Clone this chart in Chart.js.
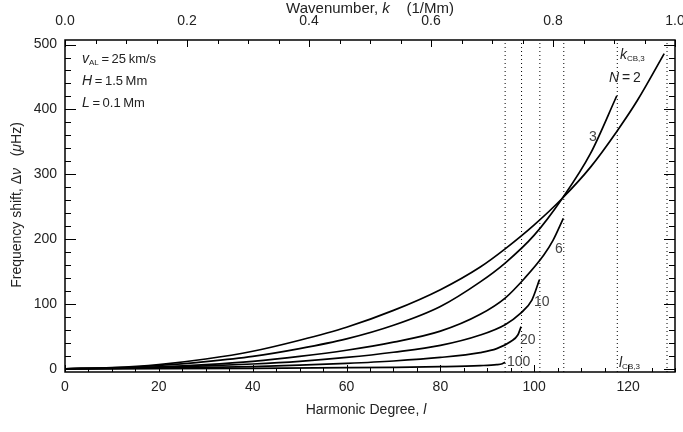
<!DOCTYPE html>
<html>
<head>
<meta charset="utf-8">
<script src="https://cdn.jsdelivr.net/npm/chart.js@4/dist/chart.umd.min.js"></script>
<style>
  html, body { margin: 0; padding: 0; background: #fff; }
  #caja { width: 683px; height: 432px; }
</style>
</head>
<body>
<div id="caja"><canvas id="grafica" width="683" height="432"></canvas></div>
<script>
// harmonic degree samples and frequency shifts (uHz)
let lN2 = [0, 10, 20, 30, 40, 50, 60, 70, 80, 88.5, 93.8, 100, 106, 112, 117.6, 122, 127.7];
let dvN2 = [0, 1.8, 6.5, 15, 27, 44, 64, 90, 122, 157, 185, 222, 263, 311, 366, 414, 486];
let lN3 = [0, 10, 20, 30, 40, 50, 60, 70, 80, 88.5, 93.8, 100, 106, 112, 117.6];
let dvN3 = [0, 1.3, 5, 11, 19, 31, 46, 67, 96, 134, 163, 206, 263, 332, 421];
let lN6 = [0, 10, 20, 30, 40, 50, 60, 70, 80, 88.5, 93.8, 98, 102, 104, 106.2];
let dvN6 = [0, 0.8, 3, 6.5, 11.5, 19, 28.5, 41, 58, 84, 109, 140, 175, 198, 232];
let lN10 = [0, 10, 20, 30, 40, 50, 60, 70, 80, 88.5, 93.8, 97, 99.5, 101.1];
let dvN10 = [0, 0.5, 2, 4.3, 7.3, 11.5, 17.5, 25.5, 36, 52, 68, 85, 106, 137];
let lN20 = [0, 10, 20, 30, 40, 50, 60, 70, 80, 88.5, 92, 95, 96.5, 97.2];
let dvN20 = [0, 0.3, 1, 2, 3.4, 5.5, 8.3, 12, 17.5, 25, 31, 42, 52, 65];
let lN100 = [0, 20, 40, 60, 70, 80, 88.5, 92, 93.2, 93.8];
let dvN100 = [0, 0.2, 0.7, 1.6, 2.2, 3.2, 4.8, 6.3, 7.8, 10];

// cut-off degrees (dotted lines)
let lCorte = [93.8, 97.3, 101.2, 106.3, 117.7, 128.3];

// tick labels
let ticksL = [0, 20, 40, 60, 80, 100, 120];
let ticksK = [0, 0.2, 0.4, 0.6, 0.8, 1.0];
let ticksDv = [0, 100, 200, 300, 400, 500];

let curvas = [
    { l: lN2, dv: dvN2 },
    { l: lN3, dv: dvN3 },
    { l: lN6, dv: dvN6 },
    { l: lN10, dv: dvN10 },
    { l: lN20, dv: dvN20 },
    { l: lN100, dv: dvN100 }
];

let yMin = -5, yMax = 507;
let fuente = "'Liberation Sans', Arial, Helvetica, sans-serif";

addEventListener("load", inicializarGrafica, false);

function sinRelleno(s) {
    s.paddingLeft = 0;
    s.paddingRight = 0;
}

function inicializarGrafica() {
    let datasets = [];
    curvas.forEach(c => {
        datasets.push({
            data: c.l.map((l, i) => ({ x: l, y: c.dv[i] })),
            borderColor: "#000",
            borderWidth: 1.7,
            pointRadius: 0,
            cubicInterpolationMode: "monotone",
            fill: false
        });
    });
    lCorte.forEach(l => {
        datasets.push({
            data: [{ x: l, y: yMin }, { x: l, y: yMax }],
            borderColor: "#000",
            borderWidth: 1,
            borderDash: [1, 3],
            pointRadius: 0,
            fill: false
        });
    });

    let ctx = document.getElementById("grafica").getContext("2d");
    new Chart(ctx, {
        type: "line",
        data: { datasets: datasets },
        options: {
            responsive: false,
            animation: false,
            layout: { padding: { left: 0, right: 8, top: 0, bottom: 0 } },
            plugins: { legend: { display: false }, tooltip: { enabled: false } },
            scales: {
                x: {
                    type: "linear", position: "bottom", min: 0, max: 130,
                    grid: { display: false, drawTicks: false },
                    border: { display: false },
                    ticks: { padding: 7, color: "#222", font: { family: fuente, size: 14 } },
                    afterBuildTicks: s => { s.ticks = ticksL.map(v => ({ value: v })); },
                    afterFit: s => { s.height = 60; sinRelleno(s); }
                },
                k: {
                    type: "linear", position: "top", min: 0, max: 1,
                    grid: { display: false, drawTicks: false },
                    border: { display: false },
                    ticks: { padding: 10, color: "#222", font: { family: fuente, size: 14 },
                             callback: v => v.toFixed(1) },
                    afterBuildTicks: s => { s.ticks = ticksK.map(v => ({ value: v })); },
                    afterFit: s => { s.height = 40; sinRelleno(s); }
                },
                y: {
                    type: "linear", position: "left", min: yMin, max: yMax,
                    grid: { display: false, drawTicks: false },
                    border: { display: false },
                    ticks: { padding: 8, color: "#222", font: { family: fuente, size: 14 } },
                    afterBuildTicks: s => { s.ticks = ticksDv.map(v => ({ value: v })); },
                    afterFit: s => { s.width = 65; s.paddingTop = 0; s.paddingBottom = 0; }
                }
            }
        },
        plugins: [marcoYTextos]
    });
}

let marcoYTextos = {
    id: "marcoYTextos",
    afterDraw(chart) {
        let c = chart.ctx;
        let a = chart.chartArea;
        let sx = chart.scales.x, sy = chart.scales.y, sk = chart.scales.k;
        c.save();
        c.strokeStyle = "#000";
        c.lineWidth = 1.5;
        c.strokeRect(a.left, a.top, a.right - a.left, a.bottom - a.top);

        c.lineWidth = 1;
        c.beginPath();
        // bottom ticks, every 5 in l
        for (let l = 0; l <= 130; l += 5) {
            let px = Math.round(sx.getPixelForValue(l)) + 0.5;
            let largo = (l % 20 === 0) ? 7 : 4;
            c.moveTo(px, a.bottom); c.lineTo(px, a.bottom - largo);
        }
        // top ticks, every 0.05 in k
        for (let i = 0; i <= 20; i++) {
            let px = Math.round(sk.getPixelForValue(i * 0.05)) + 0.5;
            let largo = (i % 4 === 0) ? 7 : 4;
            c.moveTo(px, a.top); c.lineTo(px, a.top + largo);
        }
        // left and right ticks, every 20
        for (let v = 0; v <= 500; v += 20) {
            let py = Math.round(sy.getPixelForValue(v)) + 0.5;
            let largo = (v % 100 === 0) ? 11 : 6;
            c.moveTo(a.left, py); c.lineTo(a.left + largo, py);
            c.moveTo(a.right, py); c.lineTo(a.right - largo, py);
        }
        c.stroke();

        c.fillStyle = "#222";
        c.textBaseline = "middle";
        // axis titles
        textoMixto(c, [["Harmonic Degree, ", 14, ""], ["l", 14, "italic "]], 366, 410, "center");
        textoMixto(c, [["Wavenumber, ", 15, ""], ["k", 15, "italic "], ["    (1/Mm)", 15, ""]], 370, 9, "center");
        c.save();
        c.translate(17, 205);
        c.rotate(-Math.PI / 2);
        textoMixto(c, [["Frequency shift, \u0394", 14, ""], ["\u03bd", 14, "italic "], ["   (", 14, ""], ["\u03bc", 14, "italic "], ["Hz)", 14, ""]], 0, 0, "center");
        c.restore();

        // parameters
        textoMixto(c, [["v", 14, "italic "], ["AL", 8, "", 4], ["\u2009=\u200925\u2009km/s", 13, ""]], 82, 59, "left");
        textoMixto(c, [["H", 14, "italic "], ["\u2009=\u20091.5\u2009Mm", 13, ""]], 82, 81, "left");
        textoMixto(c, [["L", 14, "italic "], ["\u2009=\u20090.1\u2009Mm", 13, ""]], 82, 103, "left");

        // curve labels
        textoMixto(c, [["k", 14, "italic "], ["CB,3", 8, "", 4]], 620, 55, "left");
        textoMixto(c, [["N", 14, "italic "], ["\u2009=\u20092", 14, ""]], 609, 78, "left");
        c.fillStyle = "#444";
        textoMixto(c, [["3", 14, ""]], 589, 137, "left");
        textoMixto(c, [["6", 14, ""]], 555, 249, "left");
        textoMixto(c, [["10", 14, ""]], 534, 302, "left");
        textoMixto(c, [["20", 14, ""]], 520, 340, "left");
        textoMixto(c, [["100", 14, ""]], 507, 362, "left");
        c.fillStyle = "#222";
        textoMixto(c, [["l", 14, "italic "], ["CB,3", 8, "", 4]], 619, 363, "left");
        c.restore();
    }
};

function textoMixto(c, partes, x, y, alinear) {
    let ancho = 0;
    partes.forEach(p => {
        c.font = p[2] + p[1] + "px " + fuente;
        ancho += c.measureText(p[0]).width;
    });
    let px = alinear === "center" ? x - ancho / 2 : x;
    c.textAlign = "left";
    partes.forEach(p => {
        c.font = p[2] + p[1] + "px " + fuente;
        c.fillText(p[0], px, y + (p[3] || 0));
        px += c.measureText(p[0]).width;
    });
}
</script>
</body>
</html>
